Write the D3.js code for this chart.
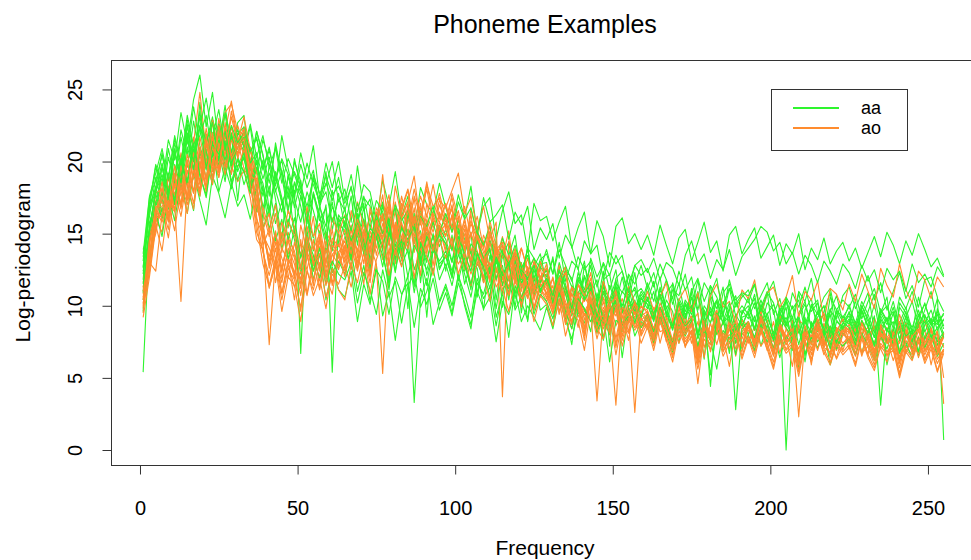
<!DOCTYPE html>
<html>
<head>
<meta charset="utf-8">
<script src="https://cdn.jsdelivr.net/npm/d3@7"></script>
<style>
  body { margin: 0; background: #fff; }
  text { font-family: 'Liberation Sans', Arial, Helvetica, sans-serif; fill: #000; }
</style>
</head>
<body>
<div id="chart"></div>
<script>
// frequencies sampled (every other bin of 1..256)
const freqs = d3.range(1, 256, 2);

const phonemes = ['aa', 'ao'];
const xTicks = [0, 50, 100, 150, 200, 250];
const yTicks = [0, 5, 10, 15, 20, 25];

// log-periodogram examples for "aa"
const aa01 = [5.4,14.8,16.1,19.7,17.2,20.9,18.1,22.6,19.3,24.1,20.2,18.4,22.7,19.6,21.9,17.3,
  21.4,18.2,20.6,15.9,19.8,17.4,14.6,19.1,16.8,18.7,13.5,17.9,16.2,14.1,18.0,15.3,
  16.8,13.2,15.9,17.1,12.6,14.8,16.3,11.4,15.5,13.9,9.8,14.7,15.2,12.1,13.8,15.0,
  12.4,14.9,11.7,13.6,15.1,10.8,13.3,12.5,14.6,9.9,12.8,13.7,11.2,14.1,10.6,12.9,
  13.0,10.1,11.9,12.7,9.4,11.6,13.1,10.2,8.1,11.8,12.2,9.7,11.0,10.4,12.3,9.1,
  11.4,9.2,10.8,7.9,11.6,10.1,8.7,11.2,9.5,6.3,10.7,9.8,11.3,8.6,10.2,9.4,
  10.6,8.3,9.9,11.0,7.6,9.4,10.3,8.8,5.7,9.7,10.5,8.2,9.6,10.9,8.0,9.3,
  8.7,10.4,7.8,9.6,10.8,8.4,9.1,6.9,10.2,9.5,8.1,10.6,9.0,7.4,9.8,8.6];
const aa02 = [12.6,17.1,19.8,18.3,21.5,20.1,23.4,21.2,24.3,26.0,22.4,24.8,21.1,23.9,20.6,22.7,
  23.2,19.4,22.1,20.5,17.6,21.3,19.0,16.4,20.2,18.1,15.7,18.9,17.0,19.3,15.2,17.8,
  15.4,17.6,14.2,16.9,13.1,15.8,17.2,14.5,12.3,15.6,14.0,16.4,11.6,14.9,13.7,15.1,
  14.3,12.0,15.5,13.2,11.1,14.7,12.6,13.9,10.4,13.5,14.4,11.8,13.0,8.9,12.7,13.6,
  11.5,13.4,10.7,12.5,11.9,9.6,12.8,11.3,10.0,12.4,7.2,11.6,10.9,12.1,9.8,11.0,
  10.3,11.7,9.0,10.9,11.5,8.8,10.4,9.7,11.8,9.1,10.6,8.2,10.1,11.2,9.3,10.0,
  9.4,10.8,8.5,10.2,9.7,7.3,10.5,9.1,10.9,8.7,9.9,10.4,7.8,9.6,10.7,8.9,
  10.1,8.6,9.8,10.9,8.3,9.5,10.6,7.1,9.9,9.2,10.3,8.5,9.7,11.0,8.8,9.4];
const aa03 = [13.4,16.2,18.9,17.1,20.3,18.5,21.7,19.6,22.8,20.4,21.3,23.1,20.0,22.2,19.4,21.6,
  20.7,22.4,19.2,21.5,20.1,18.3,21.8,19.5,17.7,20.6,18.8,21.1,17.4,19.9,18.2,20.0,
  17.3,19.1,16.5,18.4,17.9,15.8,18.7,16.9,19.3,16.2,17.6,15.1,18.2,17.0,16.4,18.5,
  16.8,15.4,17.7,16.1,18.3,15.0,16.9,17.5,14.6,16.6,17.9,15.7,16.3,13.8,17.1,15.9,
  16.2,14.5,15.8,16.9,14.0,15.4,16.5,13.6,15.9,14.8,12.7,15.5,16.1,14.3,15.0,13.9,
  14.9,13.5,15.6,14.2,12.9,14.7,15.3,13.1,14.4,15.8,13.7,14.5,12.4,14.9,15.5,13.6,
  14.6,15.4,13.3,14.1,14.9,12.8,14.3,13.6,15.0,12.5,14.0,13.2,14.7,12.9,13.8,14.4,
  13.1,14.0,12.6,13.7,14.8,13.4,15.1,14.2,12.9,14.5,13.5,15.0,13.9,12.7,13.3,12.1];
const aa04 = [13.9,15.2,17.8,16.0,19.1,17.4,20.2,18.3,16.6,20.9,18.8,21.4,17.9,19.6,18.1,20.3,
  18.4,19.7,16.5,18.2,15.3,17.1,13.9,16.0,14.6,12.2,14.9,11.8,13.6,10.4,12.7,11.1,
  10.6,12.4,8.9,11.5,10.1,12.8,9.3,11.0,7.6,10.7,12.1,3.3,10.5,11.9,8.7,10.2,
  11.3,9.5,12.2,10.0,8.4,11.6,10.8,12.5,9.2,10.9,7.8,11.4,10.3,9.0,12.0,9.7,
  10.1,8.6,11.2,9.4,7.3,10.5,9.8,8.2,10.9,9.1,8.0,10.3,6.4,9.6,10.4,8.5,
  9.2,7.5,9.9,8.8,6.9,9.4,8.1,10.0,7.7,8.9,5.2,8.6,9.5,7.4,8.3,9.1,
  8.0,9.3,7.2,8.7,6.6,8.4,9.2,7.8,8.5,6.1,8.9,7.5,8.2,9.4,7.0,8.1,
  7.6,8.8,6.7,8.3,7.4,9.0,5.9,7.9,8.6,7.1,8.4,6.5,7.7,8.9,7.3,8.0];
const aa05 = [11.8,16.9,18.2,20.6,17.9,21.3,19.4,22.5,20.1,23.5,19.8,22.0,20.7,18.6,21.9,20.3,
  19.2,21.0,18.0,20.1,16.6,19.3,17.5,15.4,18.6,16.9,14.8,17.7,15.9,16.8,13.9,16.3,
  15.6,13.4,16.1,14.3,12.6,15.5,14.7,12.0,15.1,13.6,14.5,11.3,14.2,13.0,15.0,12.5,
  13.5,11.9,14.6,12.7,13.8,10.6,13.1,12.2,14.0,11.4,12.9,13.6,9.5,12.4,13.3,11.6,
  12.6,10.8,13.0,11.5,9.9,12.3,11.1,12.8,10.2,11.7,8.6,11.9,12.4,10.5,11.3,10.0,
  11.6,10.3,12.0,9.2,11.1,10.7,12.2,9.8,10.9,7.9,11.4,10.6,9.4,11.8,10.1,10.8,
  10.2,11.5,9.3,10.8,11.7,9.6,10.4,8.4,11.0,10.3,11.9,9.5,10.6,11.2,9.1,10.7,
  11.3,9.8,10.9,12.1,10.4,11.6,9.7,11.0,12.3,10.5,11.4,9.9,11.8,12.0,10.6,0.7];
const aa06 = [9.6,15.8,17.1,18.9,16.7,19.8,18.2,21.0,19.5,17.6,21.9,20.3,22.4,19.0,20.8,18.7,
  20.4,17.9,19.6,18.5,16.2,19.0,17.1,18.3,15.0,17.6,16.4,13.8,16.9,15.5,17.2,14.3,
  15.9,13.6,14.8,16.0,12.4,15.2,13.9,11.1,14.6,13.3,15.3,12.5,13.8,9.2,14.0,12.9,
  13.4,12.1,14.2,11.5,13.0,12.6,9.7,13.5,11.9,12.8,10.4,13.1,11.6,12.3,10.9,11.8,
  12.5,10.3,11.7,9.1,11.4,10.8,12.0,9.6,10.5,11.6,8.3,10.9,10.0,11.3,9.4,10.6,
  9.8,11.0,8.7,10.4,9.6,7.4,10.1,9.0,10.7,8.5,9.9,8.1,10.3,9.2,6.6,9.7,
  9.1,10.2,8.4,9.5,7.9,9.8,0.0,8.6,9.3,7.7,10.0,8.9,9.4,7.2,9.6,8.3,
  9.0,7.6,9.7,8.5,10.1,8.0,9.2,7.3,8.8,9.9,8.2,6.8,9.3,8.7,9.6,8.4];
const aa07 = [12.2,16.8,19.7,17.6,20.9,18.8,22.2,20.5,23.8,21.1,19.4,22.9,21.6,23.3,20.2,22.0,
  21.3,19.8,22.1,20.4,18.5,21.0,19.3,17.4,20.0,18.6,16.3,19.1,17.8,18.4,20.0,17.2,
  18.1,15.8,19.7,16.6,17.4,14.7,16.9,15.6,13.2,16.2,14.9,15.9,12.8,15.1,14.0,15.4,
  14.6,13.1,15.2,12.4,14.3,13.7,11.6,14.5,12.9,13.9,10.7,13.4,12.1,14.0,11.3,12.7,
  12.0,13.2,10.6,12.4,11.3,9.5,12.1,10.9,11.8,8.7,11.4,10.2,12.0,9.9,10.8,11.2,
  10.5,9.1,11.3,9.8,10.6,8.3,10.2,9.4,11.0,8.8,9.6,10.4,7.1,9.9,10.7,8.6,
  9.7,10.5,8.2,9.4,10.1,8.8,9.9,6.9,9.5,10.3,8.5,9.2,10.0,8.1,9.7,8.9,
  9.5,8.3,10.0,9.1,7.8,9.7,8.9,10.3,8.4,9.6,7.5,9.0,10.2,8.7,9.4,8.0];
const aa08 = [10.4,13.1,16.5,14.8,17.6,15.9,18.7,16.4,19.2,17.3,15.6,19.0,17.8,16.1,18.5,16.9,
  17.7,16.0,18.4,15.3,16.8,14.5,16.0,13.2,15.4,12.6,14.7,13.5,11.8,14.0,12.3,13.1,
  12.2,13.9,11.0,12.8,10.3,12.5,11.7,9.4,12.0,10.8,11.6,8.5,11.2,10.1,11.9,9.7,
  10.9,9.3,11.6,10.2,8.7,11.0,9.8,10.6,7.5,10.3,9.4,11.1,8.9,10.0,9.2,8.3,
  9.9,8.4,10.5,9.0,7.7,9.6,8.8,10.1,8.2,9.3,6.1,9.0,8.6,9.8,7.9,8.9,
  8.5,7.4,9.2,8.1,6.8,8.7,7.9,9.0,7.2,8.4,7.6,5.6,8.3,7.7,8.8,7.0,
  8.0,6.9,8.6,7.5,8.2,6.4,7.9,7.3,8.5,6.7,7.8,7.1,8.3,5.9,7.6,7.2,
  7.7,6.6,8.1,7.3,6.2,7.9,7.0,8.4,6.8,7.5,6.3,7.8,7.1,8.0,6.5,7.4];
const aa09 = [13.1,17.5,18.7,20.4,18.9,21.6,19.8,22.9,20.7,21.8,23.2,20.5,22.6,21.2,19.7,21.9,
  22.4,20.6,21.7,19.5,21.0,18.7,20.2,19.1,17.5,19.8,18.2,19.4,16.8,18.5,17.3,18.9,
  16.6,18.3,15.7,17.5,16.9,14.6,17.1,15.9,16.8,13.7,16.3,15.2,16.7,14.5,15.8,14.1,
  15.3,13.8,16.0,14.6,12.9,15.1,14.2,15.6,12.3,14.7,13.5,14.9,11.8,14.0,13.3,12.6,
  13.9,12.2,14.4,11.7,13.1,12.6,10.4,13.3,12.0,12.9,11.1,12.5,9.6,12.2,11.5,12.8,
  11.2,12.3,10.5,11.8,10.1,11.6,9.2,11.0,11.9,10.3,11.4,8.8,10.9,11.5,9.9,10.6,
  11.1,9.8,10.7,11.6,9.4,10.5,8.6,10.9,9.9,11.3,9.6,10.2,7.9,10.6,9.7,10.4,
  9.9,10.8,9.1,10.3,11.2,9.5,10.0,8.4,10.6,9.8,11.0,9.3,10.1,8.9,10.5,9.6];
const aa10 = [11.0,14.7,17.2,16.1,18.9,17.3,20.0,18.4,21.2,19.0,17.7,20.8,19.5,21.4,18.6,20.1,
  19.3,17.8,20.0,18.1,16.5,18.9,17.3,15.6,18.0,6.7,16.2,14.7,16.9,15.0,13.8,16.1,
  14.9,13.1,15.6,14.0,12.2,14.8,13.5,11.6,14.3,12.8,13.9,10.9,13.4,12.5,14.1,11.8,
  12.9,11.4,13.6,12.2,10.6,13.0,11.9,12.7,9.8,12.4,11.2,12.8,10.3,11.7,12.5,10.9,
  11.6,10.2,12.1,10.8,9.3,11.5,10.4,11.2,8.6,10.9,9.9,11.3,8.2,10.5,9.6,10.8,
  10.1,8.9,10.7,9.5,8.3,10.2,9.1,10.6,7.8,9.7,8.8,10.3,9.2,6.7,9.4,8.6,
  9.6,8.4,10.1,8.9,7.6,9.5,8.7,10.0,8.1,9.2,7.3,9.0,8.5,9.8,7.9,8.8,
  9.3,8.0,9.7,8.6,7.2,9.1,8.2,9.5,7.7,8.9,6.9,8.7,9.4,7.8,8.5,9.0];
const aa11 = [12.7,16.6,18.0,19.9,17.8,20.6,18.9,21.8,19.4,22.5,20.7,18.8,21.5,20.1,22.0,19.3,
  20.6,18.4,20.1,17.6,19.2,18.0,16.5,19.0,17.4,15.8,17.9,16.6,14.9,17.0,5.4,15.7,
  15.2,13.8,16.4,14.5,12.9,15.3,14.1,15.8,12.4,14.6,13.7,11.5,14.4,13.2,14.9,12.6,
  13.5,12.0,14.1,12.8,11.3,13.7,12.5,10.6,13.2,12.1,13.0,9.9,12.6,11.8,12.9,11.0,
  11.9,10.7,12.5,11.2,9.6,12.0,10.9,11.6,8.9,11.3,10.4,11.8,9.5,10.8,11.1,9.2,
  10.6,9.4,11.1,9.9,8.6,10.5,9.6,10.9,8.0,10.0,9.3,10.4,8.7,9.8,7.4,9.5,
  10.0,8.9,10.4,9.2,8.1,9.9,8.8,7.9,9.3,10.1,8.5,9.6,8.2,9.7,9.0,8.4,
  9.6,8.5,10.0,8.9,7.8,9.5,8.7,9.9,8.1,9.2,7.5,9.4,8.8,9.7,8.3,9.1];
const aa12 = [10.9,15.4,17.9,19.1,17.5,20.6,19.2,22.0,20.4,23.1,21.3,22.7,20.1,23.4,21.5,22.2,
  21.0,22.6,20.3,21.8,19.6,20.9,18.5,20.2,19.1,17.8,19.9,18.4,17.2,19.0,17.7,18.3,
  17.1,18.2,16.0,17.6,15.4,17.3,16.5,14.8,17.0,15.9,16.6,14.3,16.2,15.5,16.9,15.0,
  16.4,15.1,17.2,16.0,16.8,14.9,17.5,15.8,16.3,17.0,14.6,16.5,15.6,16.9,13.9,15.4,
  14.6,15.7,13.3,14.9,14.1,12.5,14.5,13.6,14.2,11.8,13.7,12.9,13.5,11.4,12.8,12.1,
  12.6,11.3,12.9,11.8,10.5,12.4,11.1,12.0,9.7,11.6,10.8,11.9,9.3,11.2,10.4,10.9,
  10.7,11.5,9.6,10.9,10.2,8.7,10.6,9.8,10.4,8.2,10.1,9.4,10.0,7.8,9.7,9.2,
  9.9,8.8,10.3,9.4,8.1,9.8,9.0,9.6,7.6,9.3,8.5,9.7,8.2,9.1,8.7,9.5];
const aa13 = [12.4,15.1,18.3,16.4,19.2,17.0,20.1,18.6,21.2,19.1,17.5,20.6,19.8,21.0,18.4,19.7,
  20.2,18.1,19.5,16.8,18.3,15.7,17.2,14.6,16.1,13.3,14.9,12.4,14.0,11.5,13.1,12.2,
  11.8,13.0,10.2,12.3,11.1,9.4,12.5,10.6,11.7,8.8,11.4,12.2,9.9,11.0,12.6,10.3,
  11.5,10.0,12.1,10.8,9.2,11.9,10.5,11.3,8.6,11.0,12.0,9.7,10.6,11.6,9.4,10.8,
  10.3,9.1,10.9,9.6,8.4,10.5,9.8,8.9,10.2,7.6,9.7,10.4,8.7,9.3,10.0,8.5,
  9.4,8.2,9.9,8.7,7.5,9.5,8.6,9.1,7.2,8.9,9.6,8.0,8.8,9.3,2.8,8.4,
  8.9,7.8,9.4,8.3,7.0,9.1,8.5,7.7,9.2,6.5,8.7,9.0,7.9,8.6,7.4,8.8,
  8.5,7.3,9.0,8.1,9.3,3.1,8.4,7.6,8.9,7.9,8.3,6.8,8.7,9.1,7.5,8.2];
const aa14 = [13.6,17.6,19.2,20.9,18.7,21.8,19.9,23.2,21.1,22.4,24.4,21.7,23.6,20.8,22.5,21.3,
  22.0,20.7,21.6,19.4,20.8,18.9,20.1,17.6,19.3,18.2,16.9,18.8,17.1,17.9,15.8,17.4,
  16.6,15.2,17.1,15.9,14.4,16.3,15.0,16.0,13.7,15.4,14.6,15.5,13.0,14.8,14.1,14.9,
  14.3,13.0,14.8,13.6,12.4,14.5,13.3,14.0,11.8,13.7,12.9,14.2,12.6,13.5,11.9,13.2,
  13.6,12.2,13.9,12.8,11.7,13.4,12.5,13.1,11.3,13.0,12.1,13.5,12.4,10.9,12.8,13.2,
  12.3,13.3,11.8,13.0,12.6,11.4,13.5,14.5,12.9,13.6,11.9,13.2,12.5,13.9,12.1,13.4,
  14.0,14.6,15.5,15.1,13.8,14.4,12.9,13.7,12.2,13.5,12.8,11.6,13.1,12.4,11.5,12.9,
  12.3,11.2,12.8,11.7,12.5,10.9,12.6,11.8,12.4,11.0,12.9,11.6,12.2,11.3,12.7,12.0];
const aa15 = [11.5,15.3,17.9,19.6,17.7,20.8,18.5,21.6,20.0,22.4,19.6,21.2,20.5,22.1,19.9,21.0,
  21.7,19.9,20.6,18.8,20.3,17.9,19.4,16.7,18.5,17.6,15.9,17.8,16.3,14.6,16.9,15.8,
  16.2,14.5,15.7,13.6,15.4,14.8,12.7,15.1,13.9,14.5,12.0,14.2,13.3,11.4,14.0,13.1,
  13.8,12.4,14.3,12.9,11.5,13.6,12.7,11.2,13.4,12.1,13.0,10.5,12.5,11.9,12.8,11.1,
  11.9,10.7,12.4,11.3,9.8,11.8,10.9,11.5,9.2,11.0,10.2,11.4,9.6,10.6,8.8,10.5,
  10.1,9.0,10.8,9.6,8.4,10.3,9.4,10.0,8.1,9.7,4.4,9.5,8.9,10.2,8.3,9.2,
  9.4,8.3,9.9,8.8,7.6,9.5,8.6,9.2,7.3,9.0,8.1,9.6,8.4,7.0,8.9,8.5,
  9.1,7.9,9.6,8.5,7.2,9.3,8.3,8.9,6.7,8.7,8.0,9.4,7.7,8.6,9.0,7.8];

// log-periodogram examples for "ao"
const ao01 = [10.1,13.8,15.2,17.9,16.4,18.8,17.0,19.9,21.3,24.8,20.6,22.7,19.5,21.8,20.1,22.5,
  21.0,19.1,16.7,15.8,12.6,14.4,11.9,13.8,12.2,14.6,10.8,13.5,12.7,14.1,11.4,13.0,
  14.2,12.5,15.3,13.7,11.6,15.0,14.1,16.2,12.9,15.5,14.4,16.8,13.3,15.9,12.1,15.2,
  16.1,14.0,15.6,13.5,16.4,12.8,14.9,13.8,11.7,14.2,12.6,13.4,10.5,12.3,11.1,12.0,
  10.8,11.9,9.6,11.2,10.4,8.5,10.9,9.9,10.6,7.8,10.1,9.3,10.5,8.9,9.6,9.0,
  9.4,8.2,9.8,8.6,7.3,9.5,8.4,9.1,6.9,8.8,7.9,9.3,8.0,8.7,6.5,8.5,
  8.9,7.7,9.2,8.1,6.8,8.7,7.5,9.0,6.3,8.4,7.8,8.8,7.2,8.2,7.0,8.6,
  8.3,7.1,8.9,7.6,6.4,8.5,7.4,8.1,6.0,7.9,7.3,8.7,6.9,7.8,7.2,8.0];
const ao02 = [9.8,12.4,15.9,16.8,15.3,18.6,16.9,19.4,17.8,20.5,18.2,21.6,19.7,22.1,24.2,21.3,
  22.4,20.0,17.3,14.6,7.3,13.2,11.6,14.0,12.9,10.7,13.8,12.4,14.5,11.9,13.6,12.8,
  13.9,15.4,12.7,14.8,16.1,13.5,15.7,14.2,16.6,13.1,15.9,17.4,14.6,16.3,15.1,17.0,
  15.8,16.7,14.4,15.9,13.6,15.2,14.0,12.5,13.8,12.0,12.9,10.9,12.3,11.4,9.7,11.6,
  10.9,9.8,11.3,10.1,8.7,10.5,9.4,10.2,8.1,9.7,8.9,9.9,7.6,9.2,8.5,9.4,
  8.9,7.8,9.3,8.4,7.0,9.0,8.2,8.7,6.5,8.5,7.6,9.1,7.9,5.8,8.3,8.0,
  8.6,7.4,9.0,8.0,6.7,8.8,7.7,8.3,6.2,8.1,7.5,8.9,7.3,8.4,6.9,8.2,
  8.4,7.2,8.8,7.8,6.6,8.5,7.5,8.2,6.1,8.0,7.4,8.9,7.1,8.3,6.8,8.1];
const ao03 = [11.3,14.1,17.3,16.2,18.9,17.4,20.6,18.5,21.7,19.3,22.3,20.1,18.9,21.5,20.4,19.6,
  20.8,18.6,16.0,14.9,13.1,14.7,12.3,15.1,13.5,11.8,14.4,13.0,15.2,12.6,14.0,13.3,
  14.8,13.2,15.9,14.1,16.5,15.3,19.1,15.0,17.2,14.6,16.8,15.7,13.9,17.1,15.4,16.3,
  15.5,17.0,14.2,16.1,13.7,15.4,12.8,14.6,13.2,11.5,13.6,12.2,11.0,12.7,10.6,11.8,
  11.2,9.9,11.6,10.3,8.9,10.7,9.6,10.4,8.4,9.9,9.1,10.2,7.9,9.5,8.7,9.6,
  9.1,8.0,9.5,8.5,7.2,9.2,8.3,8.9,6.7,8.6,7.8,9.3,7.4,8.4,7.9,8.8,
  8.3,7.5,9.1,8.2,6.9,8.7,7.6,8.5,6.4,8.3,7.7,9.0,7.4,8.6,7.1,8.0,
  8.5,7.3,8.9,7.9,6.7,8.6,7.6,8.3,6.2,8.1,7.5,8.8,7.2,8.4,6.9,7.8];
const ao04 = [10.6,13.3,16.8,17.2,15.9,18.4,19.3,17.6,20.2,18.5,21.4,19.7,22.0,20.3,19.1,21.5,
  20.5,18.9,17.6,14.9,14.0,12.8,15.1,13.4,12.0,14.3,13.6,11.4,14.7,13.0,15.3,12.5,
  14.1,15.6,13.4,16.0,14.7,15.9,13.8,16.8,15.2,17.1,14.9,17.6,16.2,18.1,15.7,17.3,
  16.8,18.0,19.2,16.4,17.5,15.3,16.9,14.6,15.8,3.7,14.5,13.1,14.0,12.4,13.3,11.9,
  12.2,10.7,11.5,12.4,9.8,11.0,10.3,11.4,9.0,10.6,9.6,10.1,8.3,9.9,9.2,10.0,
  9.5,8.4,9.9,8.8,7.5,9.4,8.6,9.1,6.9,8.8,8.0,9.5,7.6,8.5,8.2,9.0,
  8.6,7.8,9.2,8.3,7.1,8.9,7.7,8.6,6.6,8.4,7.9,9.1,7.3,8.5,7.6,8.2,
  8.7,7.5,9.0,8.1,6.9,8.7,7.8,8.4,6.4,8.2,7.6,9.0,7.4,8.5,7.0,7.9];
const ao05 = [9.2,12.0,15.4,16.8,14.7,17.9,16.2,18.9,17.1,20.0,18.2,20.8,18.9,21.3,19.7,18.6,
  19.4,17.5,14.6,13.9,11.2,13.0,10.4,12.6,11.8,9.9,12.4,11.1,13.0,10.6,12.2,11.5,
  12.8,11.3,13.5,12.1,14.2,12.9,5.3,13.8,15.1,13.4,14.6,16.0,13.7,15.4,14.1,15.8,
  14.9,16.2,13.8,15.3,12.9,14.6,13.3,11.8,13.7,12.4,10.9,12.8,11.6,10.5,12.0,11.2,
  10.6,9.5,11.0,9.8,8.4,10.3,9.3,9.9,7.7,9.5,8.7,9.7,7.2,9.0,8.3,9.1,
  8.6,7.5,9.0,7.9,6.6,8.7,7.7,8.3,6.1,8.0,7.3,8.7,6.9,7.8,7.4,8.1,
  7.7,6.8,8.3,7.4,6.1,8.0,7.0,7.7,5.5,7.5,6.9,8.1,6.6,7.6,6.3,7.3,
  7.5,6.5,8.0,7.1,5.9,7.8,6.8,7.4,5.3,7.2,6.6,7.9,6.3,7.3,6.0,7.0];
const ao06 = [10.8,14.6,16.0,15.1,18.3,16.6,19.5,17.3,20.8,18.6,21.9,19.8,22.6,20.7,23.1,21.2,
  22.0,20.9,18.3,15.6,13.0,15.2,12.4,14.7,13.8,11.5,14.2,12.9,14.8,12.0,13.5,14.3,
  13.0,14.7,12.6,15.2,13.9,15.8,14.4,12.9,15.6,14.1,16.4,14.8,15.9,13.6,16.1,15.0,
  15.7,14.1,16.0,13.9,15.1,13.2,14.5,12.6,13.9,11.8,13.2,11.5,12.7,10.6,12.1,11.3,
  11.9,10.3,11.4,9.7,10.9,9.2,10.6,9.9,3.4,9.5,10.2,8.6,9.8,9.1,2.6,9.3,
  9.6,8.3,9.2,7.8,8.9,7.4,8.7,8.0,7.2,8.8,6.8,8.4,7.7,9.0,7.0,8.2,
  8.7,7.2,8.4,6.9,8.2,8.6,7.3,8.1,6.5,7.9,8.5,7.0,8.0,6.4,7.8,8.3,
  7.4,8.2,6.8,7.9,8.5,7.0,7.7,6.2,7.6,8.3,6.9,7.8,6.6,7.5,8.1,7.1];
const ao07 = [9.5,13.6,15.0,17.6,15.8,18.4,16.7,19.2,20.1,18.0,21.2,19.4,23.0,20.8,22.4,20.2,
  21.7,19.8,16.9,15.4,12.8,14.9,13.3,11.9,14.4,12.5,14.9,13.1,12.0,14.5,12.8,15.0,
  13.2,15.3,13.8,15.9,14.2,16.5,14.7,17.0,15.1,17.6,15.7,18.1,16.2,18.6,16.1,17.8,
  16.0,17.5,15.4,16.9,14.8,16.2,14.0,15.5,13.2,14.8,12.5,14.0,11.8,13.3,11.2,12.6,
  10.5,12.0,10.0,11.4,9.4,10.9,9.0,10.6,8.7,10.3,8.5,3.1,9.8,8.2,9.9,8.0,
  9.6,7.9,9.4,7.5,9.1,7.8,9.3,7.4,8.9,7.1,8.8,7.3,9.0,7.0,8.6,7.2,
  8.8,6.9,8.5,7.3,8.9,6.7,8.4,8.0,7.0,8.3,6.6,8.5,7.1,6.8,8.4,6.9,
  8.3,6.7,8.1,8.5,6.8,8.2,6.5,8.0,8.4,6.7,8.1,6.4,7.9,8.3,6.6,8.0];
const ao08 = [10.2,12.3,15.6,13.8,17.1,15.2,18.3,16.4,19.7,17.8,20.6,18.9,22.1,20.0,19.2,21.5,
  19.5,18.7,15.1,13.9,11.4,13.3,10.8,12.9,11.3,12.4,10.7,13.0,11.1,13.3,11.6,13.7,
  12.0,14.1,12.4,14.5,12.9,15.0,13.2,15.4,13.6,15.8,13.9,16.2,14.3,15.6,13.8,15.4,
  13.7,14.1,12.9,13.7,12.2,13.4,11.6,13.0,11.3,12.1,10.7,12.7,10.1,11.7,9.7,11.2,
  10.3,11.4,9.4,11.0,8.7,10.7,8.5,9.5,9.1,9.3,8.1,9.9,7.9,9.7,8.5,8.8,
  8.4,9.6,8.2,8.4,7.4,9.0,7.2,8.3,4.6,8.1,7.8,8.9,7.5,8.0,7.7,8.8,
  7.4,8.6,7.2,7.9,7.5,8.5,7.3,8.0,2.3,7.8,7.4,8.4,7.1,7.9,7.3,8.6,
  7.0,8.4,6.7,7.2,7.5,8.1,7.5,6.8,7.0,8.4,7.2,6.7,7.9,7.3,6.6,8.1];
const ao09 = [11.6,14.4,17.8,18.1,17.0,19.7,17.6,20.5,18.8,21.7,19.6,22.9,20.8,23.4,24.0,22.1,
  21.9,20.2,18.1,15.3,16.4,13.1,15.8,14.7,11.9,15.6,13.8,16.2,12.4,15.1,14.3,16.0,
  13.5,16.6,15.0,12.9,16.8,15.4,17.7,14.2,18.3,16.1,17.2,19.0,15.6,18.4,16.9,17.5,
  15.2,17.8,16.1,13.9,16.7,15.0,12.8,15.9,14.1,13.3,15.2,11.6,14.0,12.5,10.9,13.1,
  11.7,10.2,12.8,9.7,11.3,10.8,8.4,11.6,9.9,10.5,8.8,11.0,9.3,7.6,10.2,9.1,
  8.5,9.9,7.4,9.2,8.6,10.1,7.1,8.8,9.5,6.4,8.9,9.7,7.8,8.3,9.4,7.2,
  8.9,7.5,9.6,8.1,6.7,9.3,8.4,7.2,9.0,8.6,5.9,8.8,9.5,7.7,8.2,9.1,
  7.4,8.9,8.0,6.6,9.2,7.8,8.5,7.0,9.4,8.1,6.8,8.7,9.0,7.3,8.3,3.2];
const ao10 = [10.0,13.0,12.4,16.4,17.1,16.8,10.3,18.5,16.7,20.0,17.9,21.1,19.2,22.3,20.4,21.6,
  21.2,18.4,17.9,14.2,15.3,11.6,14.0,13.1,10.4,13.7,12.5,14.6,11.2,13.9,12.8,15.1,
  12.6,14.9,13.8,11.5,15.2,14.0,16.4,12.8,15.6,13.4,16.9,15.3,12.1,16.0,14.6,15.5,
  13.9,16.3,14.7,12.5,15.0,13.8,11.9,14.4,12.6,10.8,13.5,12.3,9.9,12.7,11.4,10.6,
  11.8,9.7,10.9,8.8,11.3,10.0,7.9,10.6,9.4,8.6,10.2,7.3,9.8,9.0,10.3,8.2,
  9.1,7.6,9.8,8.4,6.9,9.3,8.0,8.7,6.2,8.9,7.7,9.4,7.1,8.5,7.9,6.8,
  8.6,7.3,8.1,9.0,6.6,8.4,7.8,5.8,8.7,7.5,8.3,6.9,8.8,7.2,6.4,8.0,
  7.7,8.4,6.5,7.9,8.6,7.0,6.1,8.2,7.4,8.8,6.7,7.6,8.3,5.9,7.8,7.2];
const ao11 = [11.2,14.9,16.3,18.6,16.1,19.2,17.0,20.1,17.9,21.0,18.8,21.8,19.5,22.3,20.1,20.9,
  21.3,19.6,18.8,16.9,15.2,17.0,14.3,16.6,15.5,13.4,16.9,14.8,15.7,12.9,16.1,15.0,
  16.3,14.1,17.2,15.5,13.6,16.8,15.9,17.7,14.4,16.6,18.0,15.2,17.1,13.9,16.4,15.8,
  17.0,15.1,16.2,13.8,15.7,14.6,12.5,15.0,13.6,14.2,11.7,13.8,12.6,10.9,13.0,11.8,
  12.9,10.6,11.9,12.7,9.8,11.5,10.9,12.3,9.2,11.7,10.4,11.1,8.6,11.4,10.2,9.5,
  11.0,9.7,10.6,11.6,8.9,10.4,11.2,9.6,10.9,8.2,10.7,11.5,9.9,10.3,8.8,11.1,
  10.5,11.8,9.4,10.9,11.3,9.9,10.6,12.1,9.2,11.0,10.4,11.7,8.9,11.2,10.8,9.7,
  11.5,10.3,12.2,11.0,9.8,12.6,11.4,10.6,12.9,11.1,10.2,12.4,11.8,10.5,12.0,11.3];
const ao12 = [10.5,13.2,16.6,15.8,17.2,16.5,19.0,17.4,18.9,19.7,21.6,18.8,21.3,19.6,22.5,20.4,
  22.3,19.9,16.2,13.7,12.1,14.0,10.9,13.2,12.4,9.6,13.5,11.7,14.1,12.0,10.8,13.6,
  12.4,14.6,13.0,15.3,12.1,14.9,16.4,13.5,15.8,14.2,17.0,13.7,16.1,14.9,12.8,15.6,
  14.8,16.3,13.6,15.0,12.7,14.5,13.4,11.6,13.9,12.0,10.8,12.9,11.3,12.2,9.9,11.5,
  10.9,9.4,11.3,8.7,10.2,9.8,7.6,10.5,9.0,8.4,9.9,7.1,9.3,8.8,9.6,7.9,
  8.8,7.2,9.1,7.9,6.4,8.6,7.5,8.2,5.9,8.0,7.3,8.7,6.8,7.7,8.3,6.5,
  7.9,6.7,8.5,7.2,5.8,7.8,6.9,7.4,5.4,7.6,6.3,8.1,7.0,6.1,7.5,6.8,
  7.3,6.0,7.9,6.6,5.7,7.4,6.8,7.1,5.2,7.0,6.4,7.7,6.2,7.2,5.5,6.9];
const ao13 = [9.9,12.8,16.1,16.2,19.0,16.6,19.7,17.5,20.6,18.4,21.5,19.3,22.5,20.4,23.5,21.4,
  23.1,20.8,19.2,16.5,14.8,16.4,13.7,15.8,14.9,12.6,15.5,13.9,15.0,12.2,14.7,14.1,
  15.3,13.6,16.0,14.8,12.9,16.5,15.1,17.3,14.6,16.8,18.1,15.7,17.6,16.2,18.4,16.0,
  17.1,15.4,16.6,14.3,15.9,14.8,12.7,15.2,13.9,14.4,11.8,13.6,12.9,11.2,13.1,12.0,
  12.6,10.8,11.7,12.3,9.6,11.4,10.7,11.9,8.9,11.0,10.1,10.6,8.2,10.3,9.4,9.9,
  9.7,8.4,10.2,9.1,7.6,9.8,8.7,9.3,6.8,9.0,8.1,9.6,7.4,8.8,8.3,7.7,
  8.9,7.5,9.3,8.2,6.9,8.7,7.9,8.4,6.1,8.6,7.3,9.1,7.7,6.6,8.5,8.0,
  8.3,7.0,8.8,7.6,6.4,8.5,7.8,7.2,8.9,6.7,7.9,8.4,6.9,7.5,8.1,5.0];
const ao14 = [11.0,13.5,16.9,16.9,17.3,16.7,18.6,17.0,19.4,17.6,20.2,18.4,21.0,19.1,21.5,20.6,
  22.0,18.4,15.7,12.9,11.3,12.8,9.6,12.0,11.4,8.9,12.5,10.7,11.9,9.8,12.6,11.1,
  10.4,12.9,11.6,13.7,10.8,13.2,14.5,12.1,14.0,12.7,15.3,11.9,14.8,13.4,12.2,14.6,
  13.3,14.7,12.2,13.6,11.4,13.0,12.1,10.3,12.6,11.2,9.6,11.8,10.5,11.0,8.9,10.7,
  10.1,8.6,10.5,7.9,9.6,9.0,6.9,9.8,8.4,7.7,9.3,6.6,8.9,8.1,9.2,7.4,
  8.5,6.9,8.9,7.6,6.1,8.3,7.2,7.9,5.6,7.7,7.0,8.4,6.5,7.4,8.0,6.3,
  7.7,6.4,8.2,7.0,5.6,7.6,6.7,7.2,5.1,7.4,6.1,7.9,6.8,5.9,7.3,6.6,
  7.1,5.8,7.7,6.4,5.5,7.2,6.6,6.9,5.0,6.8,6.2,7.5,6.0,7.0,5.4,6.7];
const ao15 = [10.4,14.6,15.9,18.2,16.0,19.1,16.9,20.0,17.8,21.0,18.6,22.0,19.4,22.7,20.2,21.0,
  21.6,19.0,18.7,14.9,13.4,15.1,12.6,14.5,13.3,11.2,14.8,12.9,13.6,11.4,14.2,13.7,
  14.5,12.7,15.6,13.9,12.0,15.4,14.6,16.7,13.5,16.1,17.2,14.3,16.8,15.2,13.8,16.5,
  15.4,16.8,14.0,15.6,13.1,14.9,13.7,11.9,14.2,12.5,11.3,13.4,11.9,12.6,10.4,12.0,
  11.4,9.8,11.9,9.2,10.8,10.3,8.1,11.0,9.6,8.9,10.5,7.7,9.9,9.3,10.1,8.6,
  9.3,7.8,9.7,8.5,7.0,9.2,8.2,8.8,6.4,8.6,7.6,9.4,7.2,8.3,8.9,7.1,
  8.6,7.2,9.0,7.8,6.5,8.4,7.5,8.0,5.9,8.2,7.0,8.7,7.6,6.6,8.1,7.4,
  7.9,6.6,8.5,7.3,6.2,8.0,7.4,7.7,5.7,7.6,6.9,8.3,6.8,7.5,6.3,7.0];

const aaSeries = [aa01, aa02, aa03, aa04, aa05, aa06, aa07, aa08, aa09, aa10, aa11, aa12, aa13, aa14, aa15];
const aoSeries = [ao01, ao02, ao03, ao04, ao05, ao06, ao07, ao08, ao09, ao10, ao11, ao12, ao13, ao14, ao15];

const colors = { aa: '#2ef52e', ao: '#ff8c2e' };

// set the dimensions and margins of the graph
const width = 971, height = 560;
const margin = { top: 60, right: -8, bottom: 95, left: 111 };

const svg = d3
  .select('#chart')
  .append('svg')
  .attr('width', width)
  .attr('height', height);

// interleave the two phonemes so neither one sits on top everywhere
const curves = [];
aaSeries.forEach((s, i) => {
  curves.push({ phoneme: 'aa', values: s });
  curves.push({ phoneme: 'ao', values: aoSeries[i] });
});

// R-style axis ranges: data extent padded by 4%
const pad = (ext) => {
  const r = ext[1] - ext[0];
  return [ext[0] - 0.04 * r, ext[1] + 0.04 * r];
};
const xExt = pad([1, 256]);
const yExt = pad([
  d3.min(curves, (c) => d3.min(c.values)),
  d3.max(curves, (c) => d3.max(c.values)),
]);

const x = d3.scaleLinear().domain(xExt).range([margin.left, width - margin.right]);
const y = d3.scaleLinear().domain(yExt).range([height - margin.bottom, margin.top]);

// Add a clipPath for the plotting region
svg
  .append('defs')
  .append('clipPath')
  .attr('id', 'clip')
  .append('rect')
  .attr('x', margin.left)
  .attr('y', margin.top)
  .attr('width', width - margin.right - margin.left)
  .attr('height', height - margin.bottom - margin.top);

const line = d3
  .line()
  .x((d, i) => x(freqs[i]))
  .y((d) => y(d));

svg
  .append('g')
  .attr('clip-path', 'url(#clip)')
  .selectAll('path')
  .data(curves)
  .enter()
  .append('path')
  .attr('fill', 'none')
  .attr('stroke', (d) => colors[d.phoneme])
  .attr('stroke-width', 1.1)
  .attr('stroke-linejoin', 'round')
  .attr('d', (d) => line(d.values.slice(0, freqs.length)));

// box round the plot
svg
  .append('rect')
  .attr('x', margin.left + 0.5)
  .attr('y', margin.top + 0.5)
  .attr('width', width - margin.right - margin.left)
  .attr('height', height - margin.bottom - margin.top)
  .attr('fill', 'none')
  .attr('stroke', '#333')
  .attr('stroke-width', 1);

// X axis
const xAxis = svg
  .append('g')
  .attr('transform', `translate(0, ${height - margin.bottom + 0.5})`)
  .call(d3.axisBottom(x).tickValues(xTicks).tickSize(9).tickPadding(26).tickFormat(d3.format('d')));
xAxis.select('.domain').attr('d', `M${x(xTicks[0])},0H${x(xTicks[xTicks.length - 1])}`).attr('stroke', '#333');
xAxis.selectAll('.tick line').attr('stroke', '#333');
xAxis.selectAll('.tick text').style('font-size', '20px').attr('fill', '#000');

// Y axis, labels turned like R does
const yAxis = svg
  .append('g')
  .attr('transform', `translate(${margin.left + 0.5}, 0)`)
  .call(d3.axisLeft(y).tickValues(yTicks).tickSize(9).tickFormat(d3.format('d')));
yAxis.select('.domain').attr('d', `M0,${y(yTicks[0])}V${y(yTicks[yTicks.length - 1])}`).attr('stroke', '#333');
yAxis.selectAll('.tick line').attr('stroke', '#333');
yAxis
  .selectAll('.tick text')
  .attr('x', null)
  .attr('dy', null)
  .attr('text-anchor', 'middle')
  .attr('transform', 'translate(-30, 0) rotate(-90)')
  .style('font-size', '20px')
  .attr('fill', '#000');

// title and axis labels
const plotMidX = (margin.left + width - margin.right) / 2;
const plotMidY = (margin.top + height - margin.bottom) / 2;

svg
  .append('text')
  .attr('x', plotMidX)
  .attr('y', 33)
  .attr('text-anchor', 'middle')
  .style('font-size', '25px')
  .text('Phoneme Examples');

svg
  .append('text')
  .attr('x', plotMidX)
  .attr('y', 555)
  .attr('text-anchor', 'middle')
  .style('font-size', '21px')
  .text('Frequency');

svg
  .append('text')
  .attr('transform', `translate(30, ${plotMidY}) rotate(-90)`)
  .attr('text-anchor', 'middle')
  .style('font-size', '21px')
  .text('Log-periodogram');

// Legend
const legend = svg
  .append('g')
  .attr('transform', `translate(${width - 200}, ${margin.top + 29})`);

legend
  .append('rect')
  .attr('x', 0.5)
  .attr('y', 0.5)
  .attr('width', 136)
  .attr('height', 61)
  .attr('fill', '#fff')
  .attr('stroke', '#333');

phonemes.forEach((p, i) => {
  legend
    .append('line')
    .attr('x1', 22)
    .attr('x2', 68)
    .attr('y1', 19 + i * 20)
    .attr('y2', 19 + i * 20)
    .attr('stroke', colors[p])
    .attr('stroke-width', 2);
  legend
    .append('text')
    .attr('x', 90)
    .attr('y', 19 + i * 20)
    .attr('dy', '0.35em')
    .style('font-size', '18px')
    .text(p);
});
</script>
</body>
</html>
